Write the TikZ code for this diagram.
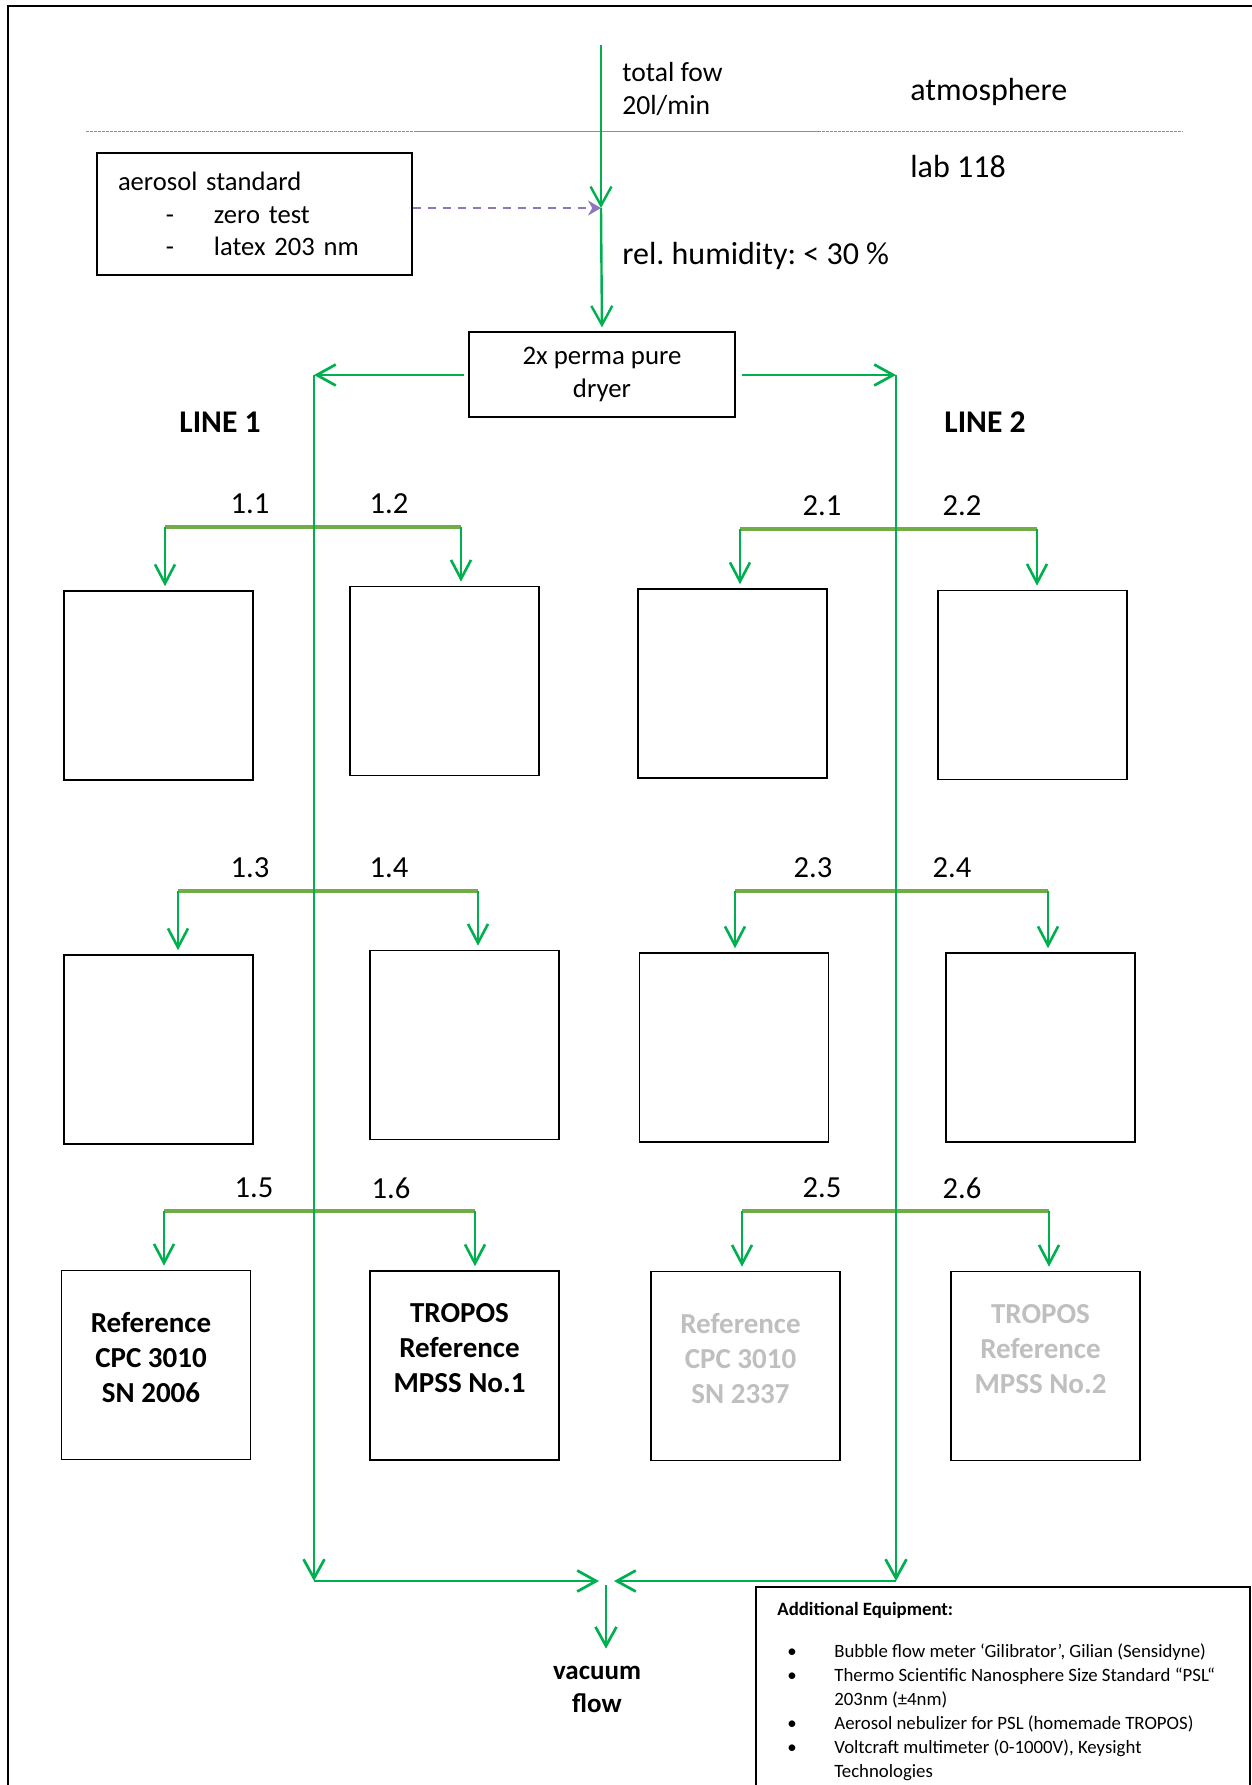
\documentclass[tikz,border=0pt]{standalone}
\usepackage{fontspec}
\setmainfont{Carlito}
\usetikzlibrary{arrows.meta}
\frenchspacing
\definecolor{flowgreen}{HTML}{00B050}
\definecolor{bargreen}{HTML}{70AD47}
\definecolor{dosepurple}{HTML}{8E78B8}
\definecolor{roomblue}{HTML}{5B9BD5}
\definecolor{ghost}{HTML}{BFBFBF}
\tikzset{
    frameline/.style={draw=black,line width=1.2pt},
    roomline/.style={draw=roomblue,line width=0.5pt},
    flowline/.style={draw=flowgreen,line width=1.35pt,-{Straight Barb[length=9.5pt,width=10.5pt]}},
    barline/.style={draw=bargreen,line width=1.7pt},
    dropline/.style={draw=flowgreen,line width=1pt,shorten >=2pt,-{Straight Barb[length=9.5pt,width=10pt,line width=1.3pt]}},
    doseline/.style={draw=dosepurple,line width=0.9pt,dash pattern=on 4pt off 3.5pt,-{Stealth[length=6.5pt,width=7.5pt]}},
    stdbox/.style={draw,line width=0.7pt,minimum width=157.5pt,minimum height=61pt,text width=136.5pt,inner xsep=10.5pt,align=left,font=\fontsize{13.3}{16.3}\selectfont},
    dryerbox/.style={draw,line width=0.7pt,minimum width=133pt,minimum height=42.5pt,align=center,font=\fontsize{13.4}{16.5}\selectfont},
    devbox/.style={draw,line width=0.8pt,minimum width=94.5pt,minimum height=94.5pt,inner sep=0pt},
    devtext/.style={align=center,inner sep=0pt,font=\bfseries\fontsize{14.5}{17.5}\selectfont},
    portlabel/.style={font=\fontsize{15.3}{17}\selectfont},
    linelabel/.style={font=\bfseries\fontsize{15.8}{18}\selectfont},
    roomlabel/.style={anchor=west,inner xsep=0pt,font=\fontsize{16}{19}\selectfont},
}
\newcommand{\splitpair}[8]{%
    \coordinate (#1a) at (#2,#4);
    \coordinate (#1b) at (#3,#4);
    \draw[barline] (#1a) -- (#1b);
    \node[portlabel] (#1la) at (#5,#4 - 23) {#7};
    \node[portlabel] (#1lb) at (#6,#4 - 23) {#8};
}
\newcommand{\devbox}[7]{%
    \node[devbox] (#1) at (#3,#4) {};
    \node[devtext,text=#2] (#1t) at ([xshift=-2.5pt,yshift=#7]#1.center) {#6};
    \draw[dropline] (#5) -- (#5 |- #1.north);
}
\begin{document}
\begin{tikzpicture}[x=0.5pt,y=-0.5pt]
    \useasboundingbox (0,0) rectangle (1252,1785);
    \clip (0,0) rectangle (1252,1785);
    \draw[frameline] (8,1800) -- (8,6) -- (1260,6);
    % atmosphere / lab
    \draw[roomline,dash pattern=on 1.5pt off 0.5pt] (86,131) -- (415,131);
    \draw[roomline] (415,131) -- (818,131);
    \draw[roomline,dash pattern=on 1.5pt off 0.5pt] (818,131) -- (1183,131);
    \node[roomlabel] (atm) at (910,92) {atmosphere};
    \node[roomlabel] (lab) at (910,166) {lab 118};
    \node[anchor=west,inner xsep=0pt,align=left,font=\fontsize{13.8}{16.5}\selectfont] (inflow) at (622,89) {total fow\\20l/min};
    \node[roomlabel] (rh) at (622,256) {rel. humidity: < 30 \%};
    % inlet, aerosol standard, dryer
    \coordinate (inlet) at (601,45);
    \coordinate (mix) at (601,208);
    \node[stdbox] (std) at (254.5,214) {aerosol standard\\\makebox[48pt][l]{\hspace*{24pt}-}zero test\\\makebox[48pt][l]{\hspace*{24pt}-}latex 203 nm};
    \node[dryerbox] (dryer) at (602,374.5) {2x perma pure\\dryer};
    \draw[flowline,line width=1.2pt] (inlet) -- (mix);
    \draw[flowline,line width=1.2pt,shorten >=2pt] (mix) -- (dryer.north);
    \draw[doseline] (std.east |- mix) -- (mix);
    \node[linelabel] (line1) at (220,422) {LINE 1};
    \node[linelabel] (line2) at (985,422) {LINE 2};
    % #1-name #2-x left #3-x right #4-y bar #5-x label left #6-x label right #7,#8-labels
    \splitpair{s12}{165}{461}{527}{250}{389}{1.1}{1.2}
    \splitpair{s34}{178}{478}{891}{250}{389}{1.3}{1.4}
    \splitpair{s56}{164}{475}{1211}{254}{391}{1.5}{1.6}
    \splitpair{t12}{740}{1037}{529}{822}{962}{2.1}{2.2}
    \splitpair{t34}{735}{1048}{891}{813}{952}{2.3}{2.4}
    \splitpair{t56}{742}{1049}{1211}{822}{962}{2.5}{2.6}
    % #1-name #2-text colour #3-x #4-y #5-bar end #6-text #7-text lift
    \devbox{b11}{black}{158.5}{685.5}{s12a}{}{0pt}
    \devbox{b12}{black}{444.5}{681}{s12b}{}{0pt}
    \devbox{b13}{black}{158.5}{1049.5}{s34a}{}{0pt}
    \devbox{b14}{black}{464.5}{1045}{s34b}{}{0pt}
    \devbox{b15}{black}{156}{1365}{s56a}{Reference\\CPC 3010\\SN 2006}{3.5pt}
    \devbox{b16}{black}{464.5}{1365.5}{s56b}{TROPOS\\Reference\\MPSS No.1}{8.5pt}
    \devbox{b21}{black}{732.5}{683.5}{t12a}{}{0pt}
    \devbox{b22}{black}{1032.5}{685}{t12b}{}{0pt}
    \devbox{b23}{black}{734}{1047.5}{t34a}{}{0pt}
    \devbox{b24}{black}{1040.5}{1047.5}{t34b}{}{0pt}
    \devbox{b25}{ghost}{745.5}{1366}{t56a}{Reference\\CPC 3010\\SN 2337}{3.5pt}
    \devbox{b26}{ghost}{1045.5}{1366}{t56b}{TROPOS\\Reference\\MPSS No.2}{8.5pt}
    % line 1 and line 2 to vacuum
    \coordinate (l1top) at (314,375);
    \coordinate (l1bot) at (314,1581);
    \coordinate (l2top) at (896,375);
    \coordinate (l2bot) at (896,1581);
    \coordinate (sink) at (606,1581);
    \draw[flowline,shorten <=2pt] (dryer.west |- l1top) -- (l1top);
    \draw[flowline,shorten <=3pt] (dryer.east |- l2top) -- (l2top);
    \draw[flowline] (l1top) -- (l1bot);
    \draw[flowline] (l2top) -- (l2bot);
    \draw[flowline,shorten >=3.5pt] (l1bot) -- (sink);
    \draw[flowline,shorten >=4pt] (l2bot) -- (sink);
    \node[align=center,font=\bfseries\fontsize{13.5}{16.5}\selectfont] (vac) at (597,1689) {vacuum\\flow};
    \draw[flowline,shorten <=2pt,shorten >=5pt] (sink) -- (vac.north -| sink);
    % additional equipment
    \draw[line width=0.8pt] (756,1800) -- (756,1587) -- (1250,1587) -- (1250,1800);
    \node[anchor=north west,align=left,inner sep=0pt,font=\fontsize{9.4}{12}\selectfont] (equip) at (777,1602) {%
        \textbf{Additional Equipment:}\\[9pt]
        \makebox[28.5pt][l]{\hspace*{5pt}\textbullet}Bubble flow meter ‘Gilibrator’, Gilian (Sensidyne)\\
        \makebox[28.5pt][l]{\hspace*{5pt}\textbullet}Thermo Scientific Nanosphere Size Standard “PSL“\\
        \hspace*{28.5pt}203nm (±4nm)\\
        \makebox[28.5pt][l]{\hspace*{5pt}\textbullet}Aerosol nebulizer for PSL (homemade TROPOS)\\
        \makebox[28.5pt][l]{\hspace*{5pt}\textbullet}Voltcraft multimeter (0-1000V), Keysight\\
        \hspace*{28.5pt}Technologies};
\end{tikzpicture}
\end{document}
